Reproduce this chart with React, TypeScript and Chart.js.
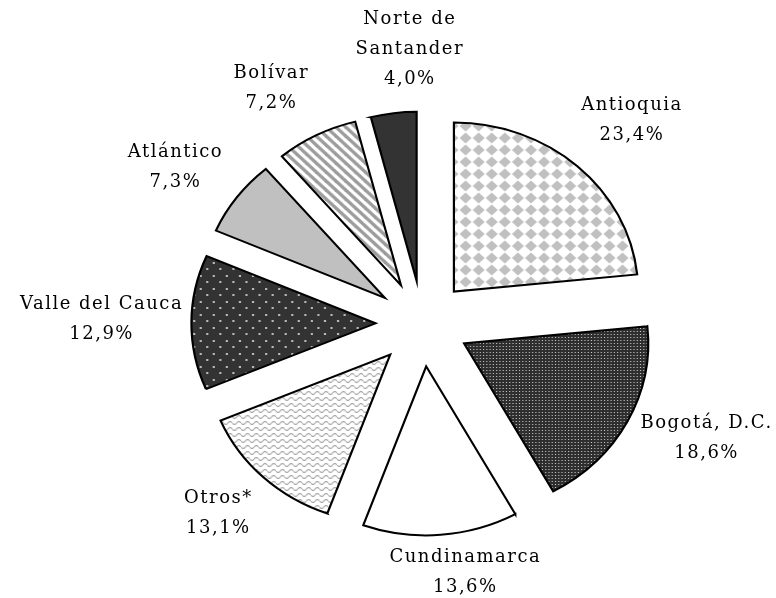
import React, { useEffect, useRef } from "react";
import { Chart, registerables } from "chart.js";

Chart.register(...registerables);

// ---- data ----
const categories = [
  "Antioquia",
  "Bogotá, D.C.",
  "Cundinamarca",
  "Otros*",
  "Valle del Cauca",
  "Atlántico",
  "Bolívar",
  "Norte de Santander",
];
const shares = [23.4, 18.6, 13.6, 13.1, 12.9, 7.3, 7.2, 4.0];
const labelLines: string[][] = [
  ["Antioquia"],
  ["Bogotá, D.C."],
  ["Cundinamarca"],
  ["Otros*"],
  ["Valle del Cauca"],
  ["Atlántico"],
  ["Bolívar"],
  ["Norte de", "Santander"],
];

// ---- layout / style ----
const W = 776;
const H = 598;
const RADIUS = 169;
const EXPLODE = 43;
const X_STRETCH = 1.09;
const LABEL_GAP = 20;
const LINE_H = 30;
const FONT = '18px "DejaVu Serif"';
const LETTER_SPACING = "1.5px";
const labelNudge: [number, number][] = [
  [40, -31],
  [60, 7],
  [23, 18],
  [-30, 22],
  [-68, -3],
  [-44, -18],
  [-35, -29],
  [19, -44],
];

const fmtPct = (v: number) => v.toFixed(1).replace(".", ",") + "%";

function makePattern(w: number, h: number, draw: (g: CanvasRenderingContext2D) => void) {
  const c = document.createElement("canvas");
  c.width = w;
  c.height = h;
  const g = c.getContext("2d")!;
  draw(g);
  return g.createPattern(c, "repeat")!;
}

function buildFills() {
  const diamonds = makePattern(12, 12, (g) => {
    g.fillStyle = "#ffffff";
    g.fillRect(0, 0, 12, 12);
    g.fillStyle = "#c0c0c0";
    g.beginPath();
    g.moveTo(6, 0.5);
    g.lineTo(11.5, 6);
    g.lineTo(6, 11.5);
    g.lineTo(0.5, 6);
    g.closePath();
    g.fill();
  });
  const fineDots = makePattern(3, 3, (g) => {
    g.fillStyle = "#2e2e2e";
    g.fillRect(0, 0, 3, 3);
    g.fillStyle = "#c8c8c8";
    g.fillRect(1, 1, 1, 1);
  });
  const waves = makePattern(8, 6, (g) => {
    g.fillStyle = "#ffffff";
    g.fillRect(0, 0, 8, 6);
    g.strokeStyle = "#a8a8a8";
    g.lineWidth = 1.1;
    g.beginPath();
    for (let x = 0; x <= 8; x += 0.5) {
      const y = 3 + 1.5 * Math.sin((2 * Math.PI * x) / 8);
      if (x === 0) g.moveTo(x, y);
      else g.lineTo(x, y);
    }
    g.stroke();
  });
  const sparseDots = makePattern(12, 13, (g) => {
    g.fillStyle = "#333333";
    g.fillRect(0, 0, 12, 13);
    g.fillStyle = "#b8b8b8";
    g.fillRect(2, 2, 2, 2);
    g.fillRect(8, 8, 2, 2);
  });
  const stripes = makePattern(9, 9, (g) => {
    g.fillStyle = "#ffffff";
    g.fillRect(0, 0, 9, 9);
    g.strokeStyle = "#9c9c9c";
    g.lineWidth = 3.2;
    for (const k of [-9, 0, 9]) {
      g.beginPath();
      g.moveTo(k - 2, -2);
      g.lineTo(k + 11, 11);
      g.stroke();
    }
  });
  return [diamonds, fineDots, "#ffffff", waves, sparseDots, "#c0c0c0", stripes, "#333333"];
}

export default function App() {
  const ref = useRef<HTMLCanvasElement | null>(null);

  useEffect(() => {
    const canvas = ref.current;
    if (!canvas) return;

    const explodePlugin = {
      id: "explode",
      afterUpdate(chart: any) {
        const meta = chart.getDatasetMeta(0);
        meta.data.forEach((arc: any) => {
          const m = (arc.startAngle + arc.endAngle) / 2;
          arc.x += EXPLODE * Math.cos(m);
          arc.y += EXPLODE * Math.sin(m);
        });
      },
    };

    const stretchPlugin = {
      id: "stretch",
      beforeDatasetsDraw(chart: any) {
        const { ctx, chartArea } = chart;
        const cx = (chartArea.left + chartArea.right) / 2;
        const cy = (chartArea.top + chartArea.bottom) / 2;
        ctx.save();
        ctx.translate(cx, cy);
        ctx.scale(X_STRETCH, 1);
        ctx.translate(-cx, -cy);
      },
      afterDatasetsDraw(chart: any) {
        chart.ctx.restore();
      },
    };

    const labelPlugin = {
      id: "sliceLabels",
      afterDraw(chart: any) {
        const { ctx, chartArea } = chart;
        const cx = (chartArea.left + chartArea.right) / 2;
        const cy = (chartArea.top + chartArea.bottom) / 2;
        const meta = chart.getDatasetMeta(0);
        ctx.save();
        ctx.font = FONT;
        (ctx as any).letterSpacing = LETTER_SPACING;
        ctx.fillStyle = "#000000";
        ctx.textAlign = "center";
        ctx.textBaseline = "middle";
        meta.data.forEach((arc: any, i: number) => {
          const m = (arc.startAngle + arc.endAngle) / 2;
          const dist = arc.outerRadius + EXPLODE + LABEL_GAP;
          const ax = cx + X_STRETCH * dist * Math.cos(m) + labelNudge[i][0];
          const ay = cy + dist * Math.sin(m) + labelNudge[i][1];
          const lines = [...labelLines[i], fmtPct(shares[i])];
          lines.forEach((t, k) => {
            ctx.fillText(t, ax, ay + (k - (lines.length - 1) / 2) * LINE_H);
          });
        });
        ctx.restore();
      },
    };

    const chart = new Chart(canvas, {
      type: "pie",
      data: {
        labels: categories,
        datasets: [
          {
            data: shares,
            backgroundColor: buildFills() as any,
            borderColor: "#000000",
            borderWidth: 2,
            borderJoinStyle: "miter",
          } as any,
        ],
      },
      options: {
        responsive: false,
        animation: false,
        events: [],
        radius: RADIUS,
        layout: { padding: { left: 69, right: 0, top: 49, bottom: 0 } },
        plugins: {
          legend: { display: false },
          tooltip: { enabled: false },
        },
      } as any,
      plugins: [explodePlugin, stretchPlugin, labelPlugin],
    });

    return () => chart.destroy();
  }, []);

  return (
    <div style={{ position: "absolute", left: 0, top: 0, width: W, height: H, background: "#ffffff" }}>
      <canvas ref={ref} width={W} height={H} style={{ display: "block" }} />
    </div>
  );
}
